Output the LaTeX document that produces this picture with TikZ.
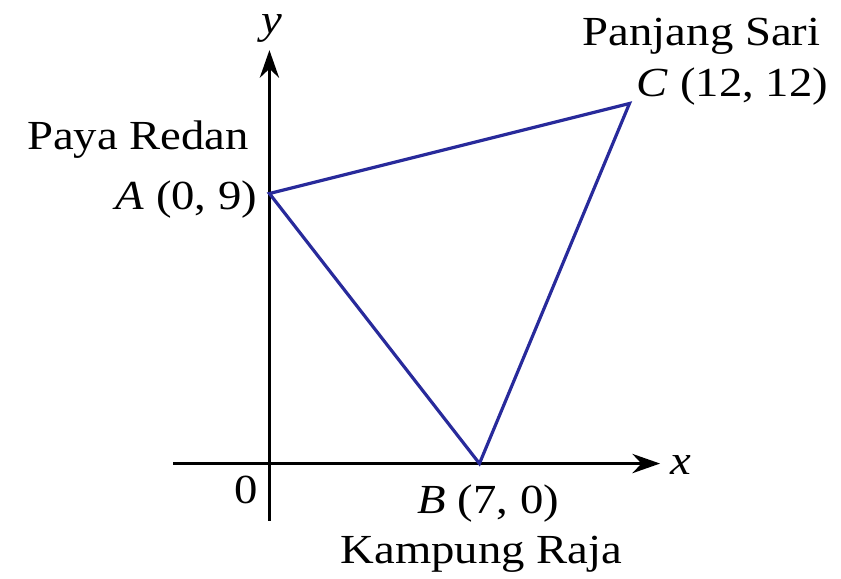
\documentclass[tikz,border=0pt]{standalone}
\usepackage{fontspec}
\setmainfont{Liberation Serif}[FakeStretch=1.13]
\usetikzlibrary{arrows.meta}
\definecolor{sideblue}{RGB}{40,42,155}

\begin{document}
\begin{tikzpicture}[x=0.25cm, y=0.25cm, >={Stealth[length=2.3mm, width=1.6mm]}, axis/.style={line width=0.8pt}, side/.style={draw=sideblue, line width=0.75pt, line join=miter}, lbl/.style={inner sep=0pt, font=\fontsize{9.8}{12}\selectfont}]
  \useasboundingbox (-8.98,-3.82) rectangle (19.05,15.45);

  % axes
  \coordinate (O) at (0,0);
  \coordinate (xl) at (-3.2,0);
  \coordinate (xr) at (13.02,0);
  \coordinate (yb) at (0,-1.9);
  \coordinate (yt) at (0,13.78);
  \draw [axis, ->] (xl) -- (xr);
  \draw [axis, ->] (yb) -- (yt);
  \node [lbl, anchor=west] (xlab) at (13.35,-0.05) {\textit{x}};
  \node [lbl, anchor=base] (ylab) at (0.08,14.35) {\textit{y}};
  \node [lbl, anchor=base] (olab) at (-0.78,-1.32) {0};

  % triangle
  \coordinate (A) at (0,9);
  \coordinate (B) at (7,0);
  \coordinate (C) at (12,12);
  \draw [side] (A) -- (B) -- (C) -- cycle;

  % place names
  \node [lbl, anchor=base east] (paya) at (-0.65,10.48) {Paya Redan};
  \node [lbl, anchor=base east] (alab) at (-0.38,8.48) {\textit{A} (0, 9)};
  \node [lbl, anchor=base west] (panjang) at (10.42,13.95) {Panjang Sari};
  \node [lbl, anchor=base west] (clab) at (12.22,12.22) {\textit{C} (12, 12)};
  \node [lbl, anchor=base] (blab) at (7.3,-1.65) {\textit{B} (7, 0)};
  \node [lbl, anchor=base] (kampung) at (7.07,-3.32) {Kampung Raja};
\end{tikzpicture}
\end{document}
